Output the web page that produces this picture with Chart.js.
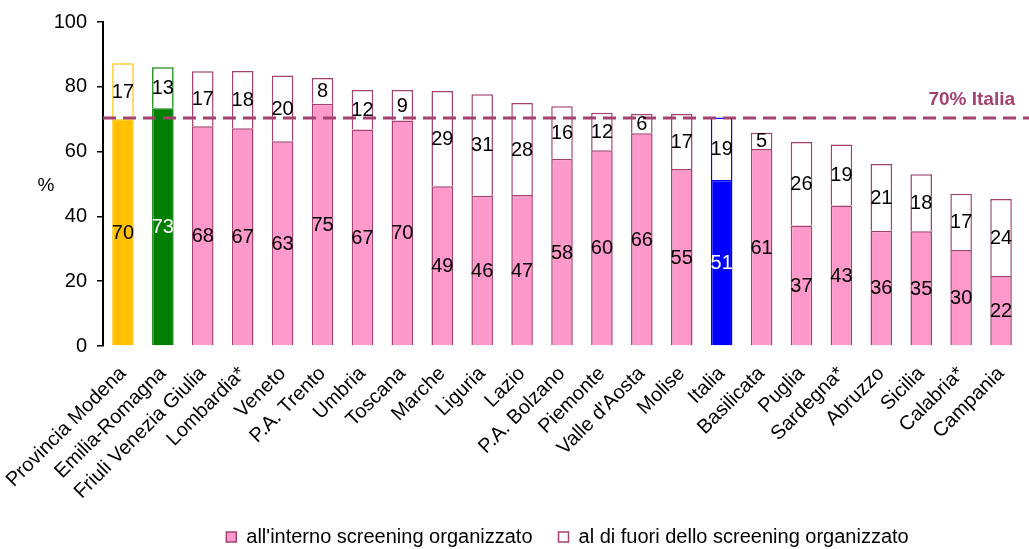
<!DOCTYPE html>
<html>
<head>
<meta charset="utf-8">
<script src="https://cdn.jsdelivr.net/npm/chart.js@4/dist/chart.umd.min.js"></script>
<style>
  body { margin: 0; background: #fff; }
  #wrap { width: 1029px; height: 549px; }
</style>
</head>
<body>
<div id="wrap"><canvas id="myChart" width="1029" height="549"></canvas></div>
<script>
var categories = ['Provincia Modena', 'Emilia-Romagna', 'Friuli Venezia Giulia', 'Lombardia*', 'Veneto',
    'P.A. Trento', 'Umbria', 'Toscana', 'Marche', 'Liguria', 'Lazio', 'P.A. Bolzano', 'Piemonte',
    "Valle d'Aosta", 'Molise', 'Italia', 'Basilicata', 'Puglia', 'Sardegna*', 'Abruzzo', 'Sicilia',
    'Calabria*', 'Campania'];
// all'interno screening organizzato
var interno = [70, 73.4, 67.8, 67.2, 63.2, 74.8, 66.8, 69.6, 49.3, 46.4, 46.6, 57.8, 60.4,
    65.7, 54.6, 51.2, 60.8, 37.2, 43.4, 35.6, 35.4, 29.6, 21.6];
// al di fuori dello screening organizzato
var fuori = [17.3, 12.6, 17.0, 17.7, 20.3, 7.9, 12.2, 9.4, 29.4, 31.3, 28.4, 16.2, 11.6,
    5.9, 17.0, 19.3, 5.0, 25.8, 18.8, 20.6, 17.6, 17.4, 23.8];
var yTicks = [0, 20, 40, 60, 80, 100];
var italiaRef = 70.4;
var italiaLabel = '70% Italia';

var magenta = '#A3426F';
var pink = '#FF99CC';
var font = '"Liberation Sans", Arial, sans-serif';

function fillFor(name) {
    if (name == 'Provincia Modena') return '#FFC000';
    if (name == 'Emilia-Romagna') return '#008000';
    if (name == 'Italia') return '#0000FF';
    return pink;
}
function edgeFor(name) {
    return fillFor(name) == pink ? magenta : fillFor(name);
}

var extraPlugin = {
    id: 'extra',
    afterLayout: function(chart) {
        // legenda spostata a destra come nell'originale
        chart.legend.left += 57;
        chart.legend.right += 57;
    },
    afterDatasetsDraw: function(chart) {
        var ctx = chart.ctx;
        var area = chart.chartArea;
        var y = chart.scales.y.getPixelForValue(italiaRef);
        ctx.save();
        // linea di riferimento Italia
        ctx.strokeStyle = magenta;
        ctx.lineWidth = 3;
        ctx.setLineDash([13, 7]);
        ctx.beginPath();
        ctx.moveTo(area.left, y);
        ctx.lineTo(chart.width, y);
        ctx.stroke();
        ctx.setLineDash([]);
        ctx.fillStyle = magenta;
        ctx.font = 'bold 19px ' + font;
        ctx.textAlign = 'right';
        ctx.textBaseline = 'middle';
        ctx.fillText(italiaLabel, 1015, y - 18);

        // etichette valori
        ctx.font = '20px ' + font;
        ctx.textAlign = 'center';
        chart.data.datasets.forEach(function(ds, di) {
            var meta = chart.getDatasetMeta(di);
            meta.data.forEach(function(bar, i) {
                var name = categories[i];
                ctx.fillStyle = (di == 0 && (name == 'Emilia-Romagna' || name == 'Italia')) ? '#fff' : '#000';
                ctx.fillText(Math.round(ds.data[i]), bar.x, (bar.y + bar.base) / 2 + 1);
            });
        });

        // titolo asse y
        ctx.fillStyle = '#000';
        ctx.font = '19px ' + font;
        ctx.fillText('%', 46, 186);
        ctx.restore();
    }
};

new Chart(document.getElementById('myChart'), {
    type: 'bar',
    data: {
        labels: categories,
        datasets: [{
            label: "all'interno screening organizzato",
            data: interno,
            backgroundColor: categories.map(fillFor),
            borderColor: categories.map(edgeFor),
            borderWidth: 1.5,
            barPercentage: 0.54,
            categoryPercentage: 1
        }, {
            label: 'al di fuori dello screening organizzato',
            data: fuori,
            backgroundColor: '#fff',
            borderColor: categories.map(edgeFor),
            borderWidth: 1.5,
            barPercentage: 0.54,
            categoryPercentage: 1
        }]
    },
    options: {
        responsive: false,
        animation: false,
        layout: { padding: { top: 14, right: 8, left: 0, bottom: -8 } },
        scales: {
            x: {
                stacked: true,
                grid: { display: false, drawTicks: false },
                border: { display: false },
                ticks: {
                    color: '#000',
                    font: { family: font, size: 20 },
                    minRotation: 45,
                    maxRotation: 45,
                    autoSkip: false,
                    padding: 16
                },
                afterFit: function(scale) {
                    scale.height = 155;
                    scale.paddingLeft = 0;
                    scale.paddingRight = 0;
                }
            },
            y: {
                stacked: true,
                min: 0,
                max: 100,
                afterBuildTicks: function(scale) {
                    scale.ticks = yTicks.map(function(v) { return { value: v }; });
                },
                grid: { display: true, drawOnChartArea: false, drawTicks: true, tickLength: 6, tickColor: '#000', lineWidth: 1.5 },
                border: { display: true, color: '#000', width: 2 },
                ticks: {
                    color: '#000',
                    font: { family: font, size: 20 },
                    padding: 10
                },
                afterFit: function(scale) { scale.width = 103; }
            }
        },
        plugins: {
            tooltip: { enabled: false },
            legend: {
                position: 'bottom',
                labels: {
                    color: '#000',
                    font: { family: font, size: 20 },
                    boxWidth: 10,
                    boxHeight: 10,
                    padding: 26,
                    generateLabels: function(chart) {
                        return chart.data.datasets.map(function(ds, i) {
                            return {
                                text: ds.label,
                                fillStyle: i == 0 ? pink : '#fff',
                                strokeStyle: magenta,
                                lineWidth: 1.5,
                                datasetIndex: i
                            };
                        });
                    }
                }
            }
        }
    },
    plugins: [extraPlugin]
});
</script>
</body>
</html>
